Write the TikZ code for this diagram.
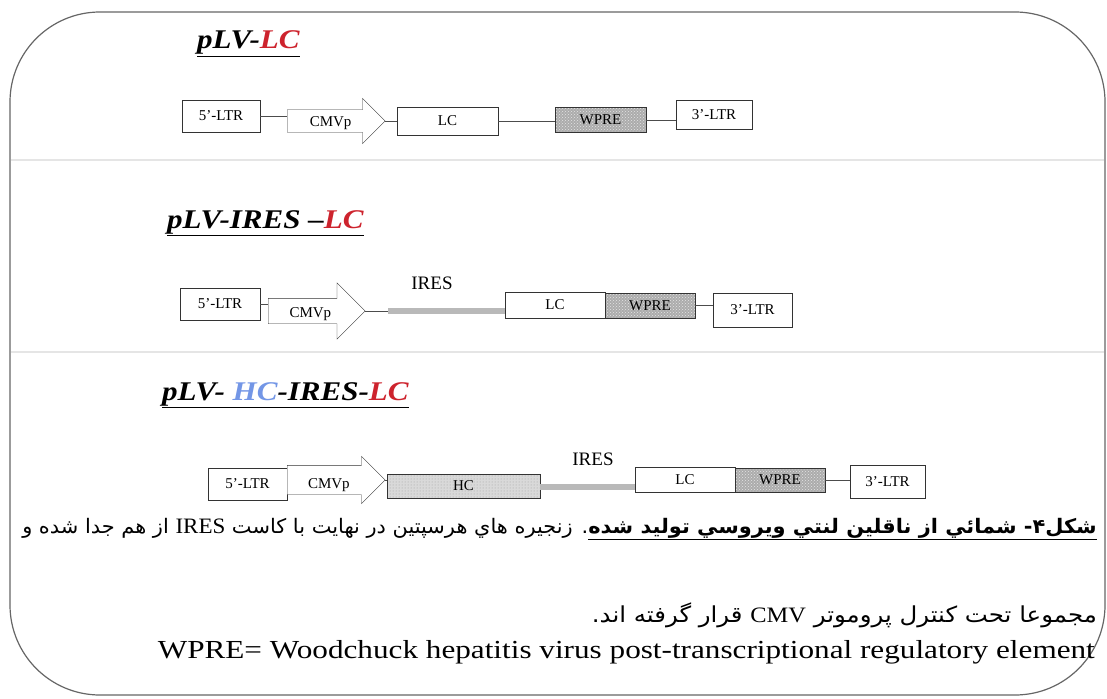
\documentclass[tikz,border=0pt]{standalone}
\usepackage{fontspec}
\setmainfont{Liberation Serif}
\newfontfamily\arabicfont[Script=Arabic]{DejaVu Sans}
\TeXXeTstate=1
\usepackage{tikz}
\usetikzlibrary{arrows.meta,positioning,shapes.arrows,patterns}
\definecolor{lcred}{RGB}{205,35,45}
\definecolor{hcblue}{RGB}{115,150,230}
\newcommand{\vtitle}[1]{\scalebox{1.15}[1]{\underline{#1}}}

\begin{document}
\begin{tikzpicture}[x=1pt, y=-1pt,
        basic/.style    = {draw=black!80, thin, inner sep=0pt, font=\fontsize{15}{17}\selectfont},
        box/.style      = {basic, rectangle, fill=white},
        wpre/.style     = {basic, rectangle, preaction={fill=gray!65}, pattern=crosshatch dots, pattern color=gray!20},
        hc/.style       = {basic, rectangle, preaction={fill=gray!30}, pattern=dots, pattern color=gray!75},
        promoter/.style n args = {3}{basic, single arrow, shape border rotate=0, anchor=tail, fill=white,
                           minimum height=#1, text height=#2, text depth=6pt, single arrow head extend=#3},
        ires/.style     = {draw=gray!55, line width=6pt},
        link/.style     = {draw=black!70, thin},
        title/.style    = {anchor=base west, inner sep=0pt, font=\fontsize{27}{30}\selectfont\bfseries\itshape},
        frame/.style    = {draw=black!60, line width=1.2pt, rounded corners=90pt}]

        \useasboundingbox (0,0) rectangle (1107,698);
        \draw[frame] (10,12) rectangle (1105,695);

        % separators between the three vectors
        \foreach \sy in {160,352}
        \draw[gray!20, line width=1.5pt] (11,\sy) -- (1104,\sy);

        % first vector
        \node[title] (t1) at (197,49) {\vtitle{pLV-\textcolor{lcred}{LC}}};
        \node[box, minimum width=78pt, minimum height=32pt] (r1ltr5) at (221,116) {5'-LTR};
        \node[promoter={98pt}{16pt}{11.5pt}] (r1cmv) at (287,121) {CMVp};
        \node[box, minimum width=101pt, minimum height=28pt] (r1lc) at (447.5,121) {LC};
        \node[wpre, minimum width=91pt, minimum height=25pt] (r1wpre) at (600.5,120) {WPRE};
        \node[box, minimum width=76pt, minimum height=29pt] (r1ltr3) at (714,115) {3'-LTR};

        \draw[link] (r1ltr5.east) -- (r1ltr5.east -| r1cmv.tail);
        \draw[link] (r1cmv.tip) -- (r1lc.west);
        \draw[link] (r1lc.east) -- (r1lc.east -| r1wpre.west);
        \draw[link] (r1wpre.east) -- (r1wpre.east -| r1ltr3.west);

        % second vector
        \node[title] (t2) at (167,228) {\vtitle{pLV-IRES --\textcolor{lcred}{LC}}};
        \node[box, minimum width=80pt, minimum height=32pt] (r2ltr5) at (220,304) {5'-LTR};
        \node[promoter={97pt}{19pt}{15.5pt}] (r2cmv) at (268,311) {CMVp};
        \coordinate (r2bar) at (388,311);
        \node[box, minimum width=100pt, minimum height=26pt] (r2lc) at (555,305) {LC};
        \node[wpre, minimum width=90pt, minimum height=25pt] (r2wpre) at (650,305.5) {WPRE};
        \node[box, minimum width=79pt, minimum height=34pt] (r2ltr3) at (752.5,310) {3'-LTR};
        \node[basic, draw=none, font=\fontsize{19}{21}\selectfont] (r2ireslabel) at (432,283) {IRES};

        \draw[link] (r2ltr5.east) -- (r2ltr5.east -| r2cmv.tail);
        \draw[link] (r2cmv.tip) -- (r2bar);
        \draw[ires] (r2bar) -- (r2bar -| r2lc.west);
        \draw[link] (r2wpre.east) -- (r2wpre.east -| r2ltr3.west);

        % third vector
        \node[title] (t3) at (162,400) {\vtitle{pLV- \textcolor{hcblue}{HC}-IRES-\textcolor{lcred}{LC}}};
        \node[box, minimum width=79pt, minimum height=32pt] (r3ltr5) at (247.5,484) {5'-LTR};
        \node[promoter={98pt}{23pt}{9pt}] (r3cmv) at (287,480) {CMVp};
        \node[hc, minimum width=153pt, minimum height=24pt] (r3hc) at (463.5,486) {HC};
        \node[box, minimum width=100pt, minimum height=25pt] (r3lc) at (685,480) {LC};
        \node[wpre, minimum width=90pt, minimum height=24pt] (r3wpre) at (780,480) {WPRE};
        \node[box, minimum width=75pt, minimum height=33pt] (r3ltr3) at (887.5,481.5) {3'-LTR};
        \node[basic, draw=none, font=\fontsize{19}{21}\selectfont] (r3ireslabel) at (593,459) {IRES};

        \draw[link] (r3cmv.tip) -- (r3cmv.tip -| r3hc.west);
        \draw[ires] ([yshift=-1pt]r3hc.east) -- ([yshift=-1pt]r3hc.east -| r3lc.west);
        \draw[link] (r3wpre.east) -- (r3wpre.east -| r3ltr3.west);

        % caption
        \node[anchor=east, inner sep=0pt] (cap1) at (1097,529)
            {\scalebox{1.045}[1]{\arabicfont\fontsize{20}{23}\selectfont\beginR\underline{\bfseries\beginR شکل۴- شمائي از ناقلين لنتي ويروسي توليد شده\endR}. زنجيره هاي هرسپتين در نهايت با کاست {\rmfamily\fontsize{22}{25}\selectfont IRES} از هم جدا شده و\endR}};
        \node[anchor=east, inner sep=0pt] (cap2) at (1097,615)
            {\scalebox{1.11}[1]{\arabicfont\fontsize{22}{25}\selectfont\beginR مجموعا تحت کنترل پروموتر {\rmfamily CMV} قرار گرفته اند.\endR}};
        \node[anchor=east, inner sep=0pt] (cap3) at (1095,652)
            {\scalebox{1.2}[1]{\fontsize{26}{30}\selectfont WPRE= Woodchuck hepatitis virus post-transcriptional regulatory element}};

    \end{tikzpicture}
\end{document}
